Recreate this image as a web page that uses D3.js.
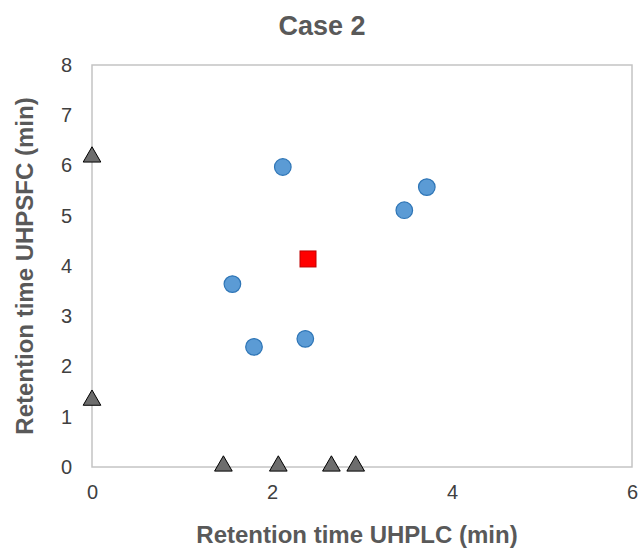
<!DOCTYPE html>
<html><head><meta charset="utf-8">
<script src="https://cdn.jsdelivr.net/npm/d3@7"></script>
<style>body{margin:0;background:#fff}svg{display:block}</style>
</head><body><svg id="c" width="638" height="550"></svg>
<script>
const title = "Case 2";
const xTitle = "Retention time UHPLC (min)";
const yTitle = "Retention time UHPSFC (min)";
const xTicks = [0, 2, 4, 6];
const yTicks = [0, 1, 2, 3, 4, 5, 6, 7, 8];
const circleX = [2.12, 3.47, 3.72, 1.56, 1.80, 2.37];
const circleY = [5.97, 5.11, 5.57, 3.64, 2.39, 2.55];
const squareX = [2.40];
const squareY = [4.14];
const triX = [0, 0, 1.46, 2.07, 2.66, 2.93];
const triY = [6.15, 1.31, 0, 0, 0, 0];

const svg = d3.select("#c");
const m = {l: 92, r: 6, t: 65, b: 83};
const W = 638, H = 550;
const x = d3.scaleLinear().domain([0, 6]).range([m.l, W - m.r]);
const y = d3.scaleLinear().domain([0, 8]).range([H - m.b, m.t]);
const font = "Arial, 'Liberation Sans', sans-serif";

svg.append("rect").attr("x", x(0)).attr("y", y(8)).attr("width", x(6) - x(0)).attr("height", y(0) - y(8))
  .attr("fill", "none").attr("stroke", "#c4c4c4").attr("stroke-width", 1.5);

const xa = svg.append("g").attr("transform", `translate(0,${y(0)})`)
  .call(d3.axisBottom(x).tickValues(xTicks).tickSize(0).tickPadding(18).tickFormat(d3.format("d")));
const ya = svg.append("g").attr("transform", `translate(${x(0)},0)`)
  .call(d3.axisLeft(y).tickValues(yTicks).tickSize(0).tickPadding(20).tickFormat(d3.format("d")));
[xa, ya].forEach(a => {
  a.select(".domain").remove();
  a.selectAll("text").attr("font-family", font).attr("font-size", 20).attr("fill", "#404040");
});

svg.append("text").attr("x", 322).attr("y", 35).attr("text-anchor", "middle")
  .attr("font-family", font).attr("font-weight", "bold").attr("font-size", 27).attr("fill", "#595959").text(title);
svg.append("text").attr("x", 357).attr("y", 543).attr("text-anchor", "middle")
  .attr("font-family", font).attr("font-weight", "bold").attr("font-size", 24).attr("fill", "#595959").text(xTitle);
svg.append("text").attr("transform", `translate(33,${(y(0) + y(8)) / 2}) rotate(-90)`).attr("text-anchor", "middle")
  .attr("font-family", font).attr("font-weight", "bold").attr("font-size", 24).attr("fill", "#595959").text(yTitle);

const g = svg.append("g");
g.selectAll("circle").data(circleX.map((d, i) => [d, circleY[i]])).join("circle")
  .attr("cx", d => x(d[0])).attr("cy", d => y(d[1])).attr("r", 8.3)
  .attr("fill", "#5b9bd5").attr("stroke", "#2e75b6").attr("stroke-width", 1.2);
const sq = 16;
g.selectAll("rect.sq").data(squareX.map((d, i) => [d, squareY[i]])).join("rect").attr("class", "sq")
  .attr("x", d => x(d[0]) - sq / 2).attr("y", d => y(d[1]) - sq / 2).attr("width", sq).attr("height", sq)
  .attr("fill", "#ff0000").attr("stroke", "#c00000").attr("stroke-width", 1);
const tri = d3.symbol().type(d3.symbolTriangle).size(135);
g.selectAll("path.tri").data(triX.map((d, i) => [d, triY[i]])).join("path").attr("class", "tri")
  .attr("transform", d => `translate(${x(d[0])},${y(d[1]) - 1})`).attr("d", tri)
  .attr("fill", "#6d6d6d").attr("stroke", "#000").attr("stroke-width", 1);
</script></body></html>
